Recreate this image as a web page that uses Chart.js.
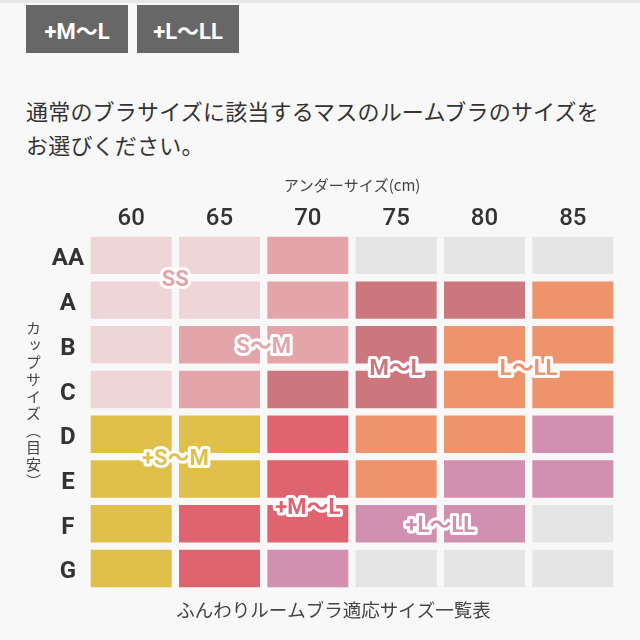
<!DOCTYPE html>
<html><head><meta charset="utf-8">
<script src="https://cdn.jsdelivr.net/npm/chart.js@4"></script>
<style>
html,body{margin:0;padding:0;background:#f8f8f8;width:640px;height:640px;overflow:hidden;font-family:"Noto Sans CJK JP",sans-serif;}
#strip{position:absolute;left:0;top:0;width:640px;height:3px;background:#e6e6e6;}
.btn{position:absolute;top:5px;height:48px;background:#676767;color:#fff;font-weight:bold;font-size:22px;font-family:Roboto,"Noto Sans CJK JP",sans-serif;display:flex;align-items:center;justify-content:center;}
#p{position:absolute;left:26px;top:93px;font-size:22px;line-height:34px;color:#333;white-space:nowrap;letter-spacing:0.2px;}
#ytitle{position:absolute;left:25px;top:321px;writing-mode:vertical-rl;font-size:15px;line-height:16px;letter-spacing:2px;color:#444;}
#wrap{position:absolute;left:0;top:0;width:640px;height:640px;}
</style></head>
<body>
<div id="strip"></div>
<div class="btn" style="left:26px;width:102px;">+M〜L</div>
<div class="btn" style="left:137px;width:102px;">+L〜LL</div>
<div id="p">通常のブラサイズに該当するマスのルームブラのサイズを<br>お選びください。</div>
<div id="wrap"><canvas id="c" width="640" height="640"></canvas></div>
<div id="ytitle">カップサイズ（目安）</div>
<script>
// ---- data ----
const underSizes = ['60','65','70','75','80','85'];
const cupSizes = ['AA','A','B','C','D','E','F','G'];
const sizeNames = ['SS','S〜M','M〜L','L〜LL','+S〜M','+M〜L','+L〜LL'];
// size per cell, one array per cup row ('' = no size)
const rowAA = ['SS','SS','S〜M','','',''];
const rowA  = ['SS','SS','S〜M','M〜L','M〜L','L〜LL'];
const rowB  = ['SS','S〜M','S〜M','M〜L','L〜LL','L〜LL'];
const rowC  = ['SS','S〜M','M〜L','M〜L','L〜LL','L〜LL'];
const rowD  = ['+S〜M','+S〜M','+M〜L','L〜LL','L〜LL','+L〜LL'];
const rowE  = ['+S〜M','+S〜M','+M〜L','L〜LL','+L〜LL','+L〜LL'];
const rowF  = ['+S〜M','+M〜L','+M〜L','+L〜LL','+L〜LL',''];
const rowG  = ['+S〜M','+M〜L','+L〜LL','','',''];
const cellRows = [rowAA,rowA,rowB,rowC,rowD,rowE,rowF,rowG];
// region label anchors (column value, row index)
const labelCol = [1, 2, 3.5, 5, 1, 2.5, 4];
const labelRow = [0.5, 2, 2.5, 2.5, 4.5, 5.6, 6];

// ---- styles ----
const bg = '#f8f8f8';
const cellColors = {
  'SS':'#efd5d8','S〜M':'#e3a4aa','M〜L':'#cc767e','L〜LL':'#ef936d',
  '+S〜M':'#e0c04a','+M〜L':'#e0646f','+L〜LL':'#d190b0','':'#e5e5e5'
};
const textColors = Object.assign({}, cellColors, {'SS':'#e6a0a8'});

const datasets = underSizes.map((u, ci) => ({
  label: u,
  data: cupSizes.map((c, ri) => [ci, ci + 1]),
  backgroundColor: cupSizes.map((c, ri) => cellColors[cellRows[ri][ci]]),
  borderColor: bg,
  borderWidth: 4,
  borderSkipped: false,
  categoryPercentage: 1,
  barPercentage: 1
}));

const regionLabels = {
  id: 'regionLabels',
  afterDatasetsDraw(chart) {
    const ctx = chart.ctx, xs = chart.scales.x, ys = chart.scales.y;
    ctx.save();
    ctx.font = 'bold 22px Roboto, "Noto Sans CJK JP", sans-serif';
    ctx.textAlign = 'center';
    ctx.textBaseline = 'alphabetic';
    ctx.lineJoin = 'round';
    const m = ctx.measureText('SM');
    const shift = (m.actualBoundingBoxAscent - m.actualBoundingBoxDescent) / 2;
    sizeNames.forEach((name, i) => {
      const x = xs.getPixelForValue(labelCol[i]);
      const y = ys.getPixelForValue(labelRow[i]) + shift;
      ctx.strokeStyle = '#ffffff';
      ctx.lineWidth = 6;
      ctx.strokeText(name, x, y);
      ctx.fillStyle = textColors[name];
      ctx.fillText(name, x, y);
    });
    ctx.restore();
  }
};

new Chart(document.getElementById('c'), {
  type: 'bar',
  data: { labels: cupSizes, datasets },
  options: {
    indexAxis: 'y',
    responsive: false,
    animation: false,
    events: [],
    layout: { padding: { left: 50, right: 23, top: 168, bottom: 0 } },
    plugins: {
      legend: { display: false },
      tooltip: { enabled: false },
      title: {
        display: true, position: 'bottom',
        text: 'ふんわりルームブラ適応サイズ一覧表',
        color: '#444',
        font: { family: '"Noto Sans CJK JP", sans-serif', size: 18.5, weight: 'normal' },
        padding: { top: 8, bottom: 19 }
      }
    },
    scales: {
      x: {
        type: 'linear', position: 'top', min: 0, max: 6, stacked: false,
        grid: { display: false, drawTicks: false }, border: { display: false },
        afterBuildTicks: s => { s.ticks = underSizes.map((u, i) => ({ value: i + 0.5 })); },
        afterFit: s => { s.height = 65; },
        ticks: {
          autoSkip: false, maxRotation: 0, padding: 0, color: '#333',
          font: { family: 'Roboto', size: 24, weight: '500' },
          callback: (v, i) => underSizes[i]
        },
        title: {
          display: true, text: 'アンダーサイズ(cm)', color: '#444',
          font: { family: '"Noto Sans CJK JP", sans-serif', size: 15 },
          padding: { top: 8, bottom: 0 }
        }
      },
      y: {
        type: 'category', offset: true, stacked: true,
        grid: { display: false, drawTicks: false }, border: { display: false },
        afterFit: s => { s.width = 37; },
        ticks: {
          autoSkip: false, padding: 3, crossAlign: 'center', color: '#333', labelOffset: 4,
          font: { family: 'Roboto', size: 24, weight: 'bold' }
        }
      }
    }
  },
  plugins: [regionLabels]
});
</script>
</body></html>
